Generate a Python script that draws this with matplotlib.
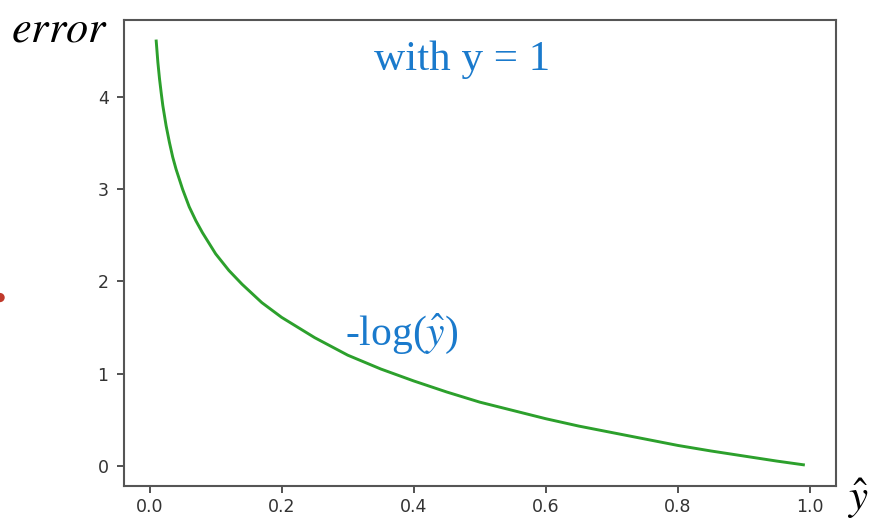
import matplotlib.pyplot as plt
from matplotlib.patches import Ellipse

# values
y_hat = [0.01, 0.0125, 0.015, 0.0175, 0.02, 0.025, 0.03, 0.035, 0.04, 0.05, 0.06,
         0.07, 0.08, 0.1, 0.12, 0.14, 0.17, 0.2, 0.25, 0.3, 0.35, 0.4, 0.45,
         0.5, 0.55, 0.6, 0.65, 0.7, 0.75, 0.8, 0.85, 0.9, 0.95, 0.99]
error = [4.61, 4.38, 4.20, 4.05, 3.91, 3.69, 3.51, 3.35, 3.22, 3.00, 2.81,
         2.66, 2.53, 2.30, 2.12, 1.97, 1.77, 1.61, 1.39, 1.20, 1.05, 0.92, 0.80,
         0.69, 0.60, 0.51, 0.43, 0.36, 0.29, 0.22, 0.16, 0.105, 0.05, 0.01]
x_ticks = [0.0, 0.2, 0.4, 0.6, 0.8, 1.0]
y_ticks = [0, 1, 2, 3, 4]

plt.rcParams['mathtext.fontset'] = 'stix'

fig = plt.figure(figsize=(8.91, 5.22), dpi=100)
ax = fig.add_axes([0.139, 0.069, 0.799, 0.893])

ax.plot(y_hat, error, color='#2ca02c', linewidth=2.1)
ax.set_xticks(x_ticks)
ax.set_yticks(y_ticks)
ax.set_xticklabels(['%.1f' % t for t in x_ticks])
ax.tick_params(labelsize=12.5, colors='#333333', length=5, width=1.2)
ax.tick_params(axis='y', pad=6)
for s in ax.spines.values():
    s.set_linewidth(1.5)
    s.set_color('#555555')

blue = '#1a7acc'
ax.text(0.475, 0.915, 'with y = 1', transform=ax.transAxes, ha='center', va='center',
        fontsize=31, color=blue, family='Liberation Serif')
ax.text(0.31, 0.325, r'-log($\hat{y}$)', transform=ax.transAxes, ha='left', va='center',
        fontsize=30, color=blue, family='Liberation Serif')

fig.text(0.012, 0.945, r'$error$', fontsize=32, ha='left', va='center')
fig.text(0.951, 0.044, r'$\hat{y}$', fontsize=31, ha='left', va='center')
# small red mark cut by the left edge in the reference
fig.add_artist(Ellipse((0.0, 0.43), 0.009, 0.015, transform=fig.transFigure,
                       color='#c0392b'))

fig.savefig('out.png', dpi=100)
